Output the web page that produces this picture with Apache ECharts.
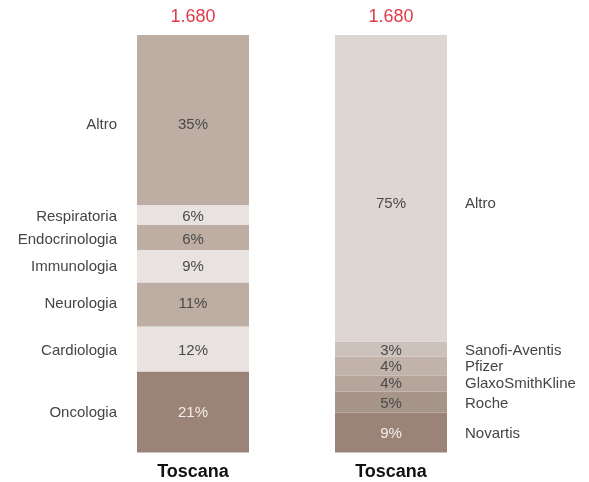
<!DOCTYPE html>
<html>
<head>
<meta charset="utf-8">
<script src="https://cdn.jsdelivr.net/npm/echarts@6/dist/echarts.min.js"></script>
<style>
html,body{margin:0;padding:0;background:#fff;}
#chart{width:589px;height:482px;}
</style>
</head>
<body>
<div id="chart"></div>
<script>
// Bars (x-axis categories)
var barNames = ['Toscana', 'Toscana'];
var totalLabels = ['1.680', '1.680'];

// Left bar: therapeutic areas (bottom to top), share of bar as drawn
var leftNames = ['Oncologia', 'Cardiologia', 'Neurologia', 'Immunologia', 'Endocrinologia', 'Respiratoria', 'Altro'];
var leftValues = [19.4, 10.8, 10.5, 7.8, 6.0, 4.8, 40.7];
var leftLabels = ['21%', '12%', '11%', '9%', '6%', '6%', '35%'];

// Right bar: companies (bottom to top)
var rightNames = ['Novartis', 'Roche', 'GlaxoSmithKline', 'Pfizer', 'Sanofi-Aventis', 'Altro'];
var rightValues = [9.6, 5.0, 3.8, 4.6, 3.6, 73.4];
var rightLabels = ['9%', '5%', '4%', '4%', '3%', '75%'];

var leftColors = ['#9b8477', '#e8e3e0', '#bdada3', '#e8e3e0', '#bdada3', '#e8e3e0', '#bdada3'];
var rightColors = ['#9b8477', '#a8958a', '#b4a49a', '#c1b3aa', '#cdc1bb', '#ded6d3'];
// small vertical label nudges (styling only)
var leftNudge = [1, 2, -1, 1, 2, 2, 5];
var rightNudge = [1, 2, 0, 1, 2, 16];

var FONT = 'Liberation Sans, Arial, sans-serif';
var series = [];

function addSide(names, values, labels, colors, nudge, idx) {
  names.forEach(function (nm, i) {
    var data = ['-', '-'];
    data[idx] = values[i];
    var dark = colors[i] === '#9b8477';
    series.push({
      type: 'bar', name: nm + idx, stack: 'main', xAxisIndex: 0,
      barWidth: 112, data: data, silent: true,
      itemStyle: { color: colors[i] },
      label: {
        show: true, position: 'inside', fontFamily: FONT, fontSize: 15,
        color: dark ? '#f3eeeb' : '#4a4a4a',
        offset: [0, nudge[i]],
        formatter: function () { return labels[i]; }
      }
    });
    series.push({
      type: 'bar', name: nm + 'n' + idx, stack: 'names', xAxisIndex: 1,
      barWidth: 112, data: data, silent: true,
      itemStyle: { color: 'rgba(0,0,0,0)' },
      label: {
        show: true, position: idx === 0 ? 'left' : 'right',
        distance: idx === 0 ? 20 : 18,
        fontFamily: FONT, fontSize: 15, color: '#454545',
        offset: [0, nudge[i]],
        formatter: function () { return nm; }
      }
    });
  });
}
addSide(leftNames, leftValues, leftLabels, leftColors, leftNudge, 0);
addSide(rightNames, rightValues, rightLabels, rightColors, rightNudge, 1);

var sum = function (a) { return a.reduce(function (x, y) { return x + y; }, 0); };
series.push({
  type: 'bar', name: 'total', xAxisIndex: 2, barWidth: 112, silent: true,
  data: [sum(leftValues), sum(rightValues)],
  itemStyle: { color: 'rgba(0,0,0,0)' }, z: 0,
  label: {
    show: true, position: 'top', distance: 9, fontFamily: FONT, fontSize: 18,
    color: '#e03a48',
    formatter: function (p) { return totalLabels[p.dataIndex]; }
  }
});

var chart = echarts.init(document.getElementById('chart'), null, { renderer: 'canvas' });
chart.setOption({
  animation: false,
  grid: { left: 94, right: 99, top: 35, bottom: 29.5 },
  xAxis: [
    {
      type: 'category', data: barNames,
      axisLine: { show: false }, axisTick: { show: false },
      axisLabel: { margin: 11, fontFamily: FONT, fontSize: 18, fontWeight: 'bold', color: '#111' }
    },
    { type: 'category', data: barNames, show: false },
    { type: 'category', data: barNames, show: false }
  ],
  yAxis: { type: 'value', min: 0, max: 100, show: false },
  series: series
});
</script>
</body>
</html>
